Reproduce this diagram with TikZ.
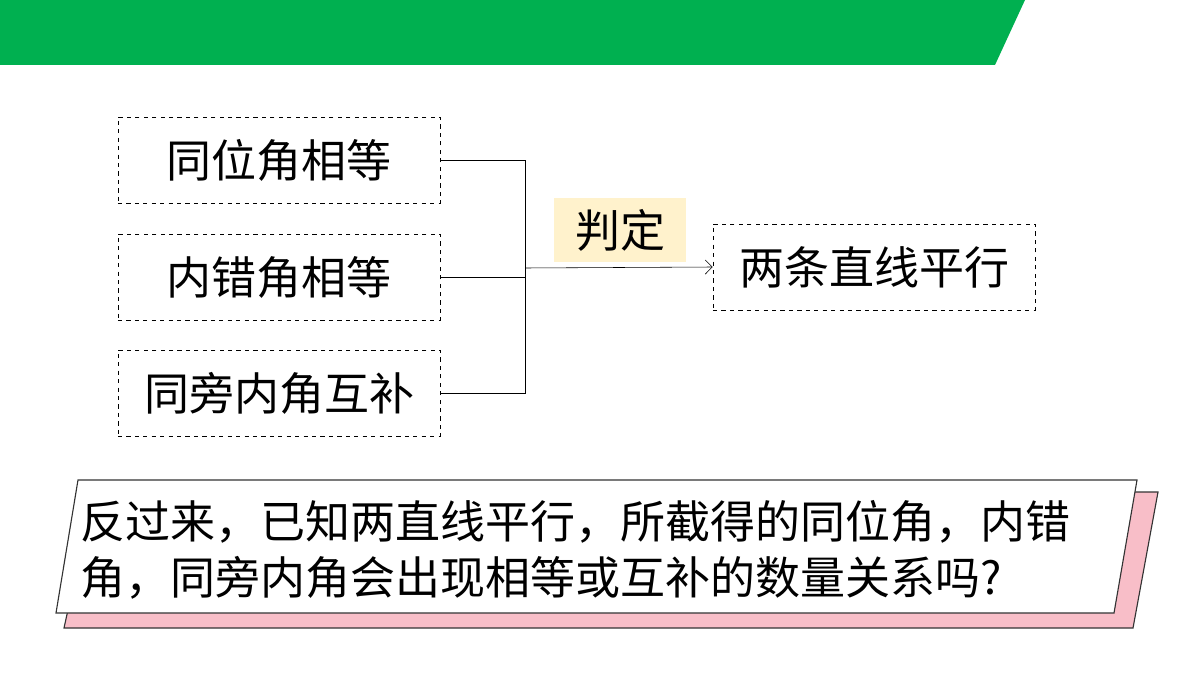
\documentclass[tikz,border=0pt]{standalone}
\usepackage{fontspec}
\newfontfamily\cjk{Noto Sans CJK SC}
\usetikzlibrary{arrows.meta}
\definecolor{topgreen}{RGB}{0,176,80}
\definecolor{labelfill}{RGB}{255,242,204}
\definecolor{shadowpink}{RGB}{248,190,200}
\tikzset{
  box/.style={draw,dashed,thin,minimum width=8.05cm,minimum height=2.15cm,font=\cjk\fontsize{32}{36}\selectfont},
  link/.style={draw,thin}
}
\begin{document}
\begin{tikzpicture}[x=0.025cm,y=-0.025cm]
\useasboundingbox (0,0) rectangle (1200,675);
\fill[topgreen](0,0)--(1025,0)--(995,65)--(0,65)--cycle;
\node[box](tw) at (279,160){同位角相等};
\node[box](nc) at (279,277){内错角相等};
\node[box](tp) at (279,393){同旁内角互补};
\node[box](px) at (874,267){两条直线平行};
\coordinate(j) at (525,268);
\draw[link](tw.east)-|(j);
\draw[link](tp.east)-|(j);
\draw[link](nc.east)--(nc.east-|j);
\draw[link,-{Straight Barb[length=5pt]}](j)--(px.west);
\node[fill=labelfill,minimum width=3.3cm,minimum height=1.6cm,font=\cjk\fontsize{32}{36}\selectfont](pd) at (620,230){判定};
\fill[shadowpink,draw=black!80,thick](94,492)--(1158,492)--(1133,628)--(64,628)--cycle;
\fill[white,draw=black!80,thick](78,480)--(1137,480)--(1114,613)--(56,613)--cycle;
\node[anchor=west,align=left,font=\cjk\fontsize{32}{40}\selectfont](q) at (76,550){反过来，已知两直线平行，所截得的同位角，内错\\角，同旁内角会出现相等或互补的数量关系吗?};
\end{tikzpicture}
\end{document}
